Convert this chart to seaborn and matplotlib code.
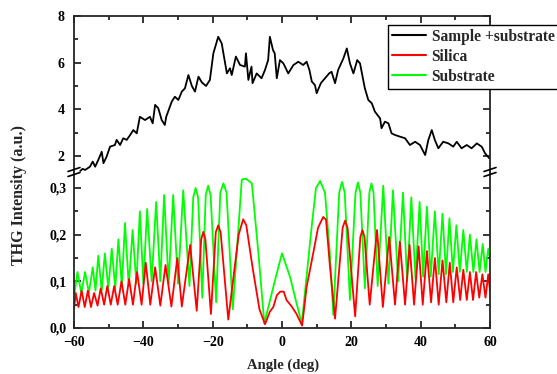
import numpy as np
import pandas as pd
import matplotlib
matplotlib.use("Agg")
import matplotlib.pyplot as plt
import seaborn as sns
from matplotlib.ticker import MultipleLocator, FuncFormatter
from matplotlib.lines import Line2D

# ---------------- data ----------------
sample_angle = [-58.2, -57.5, -56.8, -55.4, -54.6, -53.9, -53.0, -52.0, -51.5, -50.6, -49.6, -48.2,
                -47.7, -46.7, -45.8, -44.8, -43.8, -42.9, -41.9, -41.0, -39.5, -38.1, -37.3, -36.6,
                -35.7, -34.7, -33.8, -33.4, -31.8, -30.9, -29.9, -28.9, -28.0, -27.0, -26.0, -25.1,
                -24.1, -23.1, -21.9, -20.8, -19.8, -18.4, -17.4, -16.9, -15.9, -15.0, -14.5, -13.3,
                -12.1, -10.7, -10.4, -9.7, -8.8, -8.5, -7.3, -5.9, -4.9, -4.0, -3.5, -2.6, -2.1,
                -1.5, -0.6, 0.4, 1.8, 3.3, 4.7, 6.1, 7.1, 7.9, 8.6, 9.5, 10.0, 11.2, 12.4, 13.6,
                14.3, 15.3, 16.2, 17.7, 18.7, 19.6, 20.6, 21.7, 22.5, 23.9, 24.9, 25.9, 26.8, 28.3,
                28.7, 29.7, 30.7, 31.6, 32.6, 34.0, 35.5, 36.9, 38.4, 39.8, 41.3, 42.2, 43.2, 44.1,
                45.1, 46.5, 48.0, 49.4, 50.4, 51.8, 53.3, 54.7, 56.2, 57.6, 58.6, 59.8]
sample_thg = [1.36, 1.45, 1.40, 1.54, 1.76, 1.54, 1.83, 2.18, 1.69, 1.97, 2.40, 2.47,
              2.69, 2.47, 2.76, 2.69, 2.90, 3.11, 2.97, 3.68, 3.54, 3.68, 3.40, 4.19,
              4.05, 3.54, 3.33, 3.68, 4.33, 4.54, 4.40, 4.76, 4.90, 5.47, 5.00, 4.76,
              5.40, 5.15, 5.00, 5.26, 6.40, 7.11, 6.83, 6.40, 5.54, 5.76, 5.47, 6.26,
              5.90, 5.83, 6.40, 5.26, 5.83, 5.12, 5.54, 5.33, 5.69, 6.11, 7.11, 6.54, 6.40,
              5.33, 6.11, 5.97, 5.54, 5.90, 6.04, 5.90, 6.04, 5.69, 5.19, 5.04, 4.69, 5.12, 5.33, 5.54,
              5.61, 5.12, 5.69, 6.18, 6.61, 5.97, 5.54, 6.11, 5.97, 4.90, 4.40, 4.26, 3.90, 3.61,
              3.19, 3.47, 3.40, 2.97, 2.90, 2.83, 2.76, 2.47, 2.61, 2.47, 2.04, 2.68, 3.11, 2.68,
              2.33, 2.61, 2.54, 2.40, 2.61, 2.33, 2.47, 2.33, 2.54, 2.40, 2.11, 1.90]

silica_angle = [-60.0, -59.5, -58.7, -57.8, -56.9, -56.0, -55.1, -54.2, -53.2, -52.3, -51.3, -50.4,
                -49.4, -48.4, -47.4, -46.3, -45.2, -44.1, -43.0, -41.8, -40.5, -39.3, -38.0, -36.6,
                -35.1, -33.6, -31.9, -30.2, -28.9, -26.5, -24.6, -23.3, -22.7, -22.1, -20.5,
                -19.1, -18.4, -17.7, -15.5, -12.5,
                -11.2, -10.3, -8.5, -6.5, -4.9, -3.5, -2.5, -1.5, -0.5, 0.5, 1.3, 2.8, 4.2, 5.8,
                7.1, 9.0, 10.4, 11.9, 12.7, 13.8, 15.3, 17.5, 18.2, 18.9, 21.1, 22.6, 23.2, 23.8,
                25.3, 27.4, 29.1, 30.9,
                32.6, 34.0, 35.5, 36.8, 38.1, 39.4, 40.6, 41.8, 43.0, 44.1, 45.2, 46.3, 47.4, 48.4,
                49.4, 50.4, 51.4, 52.3, 53.3, 54.2, 55.1, 56.0, 56.9, 57.8, 58.7, 59.5, 60.0]
silica_thg = [0.040, 0.075, 0.045, 0.080, 0.045, 0.080, 0.045, 0.075, 0.048, 0.085, 0.050, 0.090,
              0.050, 0.090, 0.050, 0.100, 0.050, 0.105, 0.050, 0.120, 0.050, 0.140, 0.050, 0.130,
              0.048, 0.135, 0.046, 0.150, 0.046, 0.178, 0.037, 0.190, 0.206, 0.190, 0.030,
              0.205, 0.220, 0.205, 0.018, 0.200,
              0.233, 0.220, 0.130, 0.040, 0.008, 0.035, 0.045, 0.070, 0.078, 0.078, 0.060, 0.046, 0.030, 0.005,
              0.088, 0.160, 0.215, 0.238, 0.232, 0.135, 0.020, 0.215, 0.230, 0.215, 0.025, 0.195, 0.210, 0.195,
              0.050, 0.210, 0.045, 0.195,
              0.050, 0.185, 0.050, 0.178, 0.050, 0.175, 0.050, 0.165, 0.055, 0.150, 0.050, 0.145, 0.055, 0.140,
              0.055, 0.130, 0.060, 0.125, 0.060, 0.120, 0.060, 0.120, 0.065, 0.115, 0.065, 0.115, 0.080]

substrate_angle = [-60.0, -59.0, -57.9, -56.8, -55.7, -54.6, -53.8, -53.0, -52.0, -51.1, -50.1, -49.1,
                   -48.1, -47.2, -46.2, -45.3, -44.2, -43.1, -42.0, -41.0, -40.0, -38.9, -37.6, -36.3,
                   -35.1, -34.0, -32.7, -31.4, -30.0, -28.5, -26.7, -25.6, -24.9, -24.2, -23.0,
                   -22.0, -21.3, -20.6, -19.0, -17.8, -16.9, -16.0,
                   -14.2, -11.6, -10.4, -8.7, -6.8, -5.1, -2.0, 0.0, 2.3, 4.2, 5.7, 8.6, 9.8, 11.0,
                   12.4, 13.8, 14.8, 16.5, 17.3, 18.1, 19.6, 21.2, 21.9, 22.6, 23.9, 25.2, 25.8, 26.4,
                   27.6, 29.2, 30.7, 32.0, 33.5, 34.9,
                   36.1, 37.3, 38.5, 39.7, 40.7, 41.8, 42.9, 44.1, 45.2, 46.3, 47.3, 48.3, 49.3, 50.3,
                   51.3, 52.3, 53.3, 54.2, 55.2, 56.1, 57.0, 57.9, 58.7, 59.5, 60.0]
substrate_thg = [0.065, 0.120, 0.075, 0.120, 0.075, 0.130, 0.080, 0.155, 0.080, 0.160, 0.085, 0.170,
                 0.085, 0.190, 0.090, 0.225, 0.090, 0.210, 0.095, 0.250, 0.095, 0.255, 0.100, 0.270,
                 0.100, 0.285, 0.095, 0.285, 0.095, 0.295, 0.090, 0.280, 0.300, 0.280, 0.065,
                 0.285, 0.305, 0.285, 0.055, 0.290, 0.310, 0.290,
                 0.040, 0.318, 0.320, 0.310, 0.160, 0.010, 0.103, 0.160, 0.110, 0.053, 0.010, 0.220, 0.300, 0.315,
                 0.290, 0.160, 0.028, 0.290, 0.313, 0.290, 0.060, 0.290, 0.312, 0.290, 0.085, 0.290, 0.310, 0.290,
                 0.090, 0.305, 0.095, 0.295, 0.100, 0.290,
                 0.100, 0.280, 0.105, 0.270, 0.110, 0.260, 0.110, 0.250, 0.115, 0.245, 0.115, 0.235, 0.120, 0.220,
                 0.120, 0.210, 0.120, 0.200, 0.120, 0.190, 0.120, 0.180, 0.120, 0.170, 0.150]

x_ticks = [-60, -40, -20, 0, 20, 40, 60]
top_yticks = [2, 4, 6, 8]
bottom_yticks = [0.0, 0.1, 0.2, 0.3]
legend_labels = ["Sample +substrate", "Silica", "Substrate"]
colors = {"Sample +substrate": "#000000", "Silica": "#ff0000", "Substrate": "#00ff00"}

# ---------------- style ----------------
sns.set_style("ticks")
plt.rcParams['font.family'] = ['Liberation Serif', 'DejaVu Serif']
plt.rcParams['font.weight'] = 'bold'
plt.rcParams['axes.linewidth'] = 1.3

W, H = 557, 374
fig = plt.figure(figsize=(W / 100, H / 100), dpi=100)
fig.patch.set_facecolor('white')

def fx(px):
    return px / W

def fy(py):
    return 1 - py / H

L, R, T, MID, B = 74, 490, 16, 172, 328
ax_top = fig.add_axes([fx(L), fy(MID), fx(R) - fx(L), fy(T) - fy(MID)])
ax_bot = fig.add_axes([fx(L), fy(B), fx(R) - fx(L), fy(MID) - fy(B)])

df_sample = pd.DataFrame({"angle": sample_angle, "thg": sample_thg})
df_silica = pd.DataFrame({"angle": silica_angle, "thg": silica_thg})
df_sub = pd.DataFrame({"angle": substrate_angle, "thg": substrate_thg})

lw = 1.3
sns.lineplot(data=df_sample, x="angle", y="thg", ax=ax_top, color=colors["Sample +substrate"],
             lw=lw, estimator=None, sort=False, legend=False)
sns.lineplot(data=df_sub, x="angle", y="thg", ax=ax_bot, color=colors["Substrate"],
             lw=lw, estimator=None, sort=False, legend=False)
sns.lineplot(data=df_silica, x="angle", y="thg", ax=ax_bot, color=colors["Silica"],
             lw=lw, estimator=None, sort=False, legend=False)

for ax in (ax_top, ax_bot):
    ax.set_xlim(-60, 60)
    ax.set_xlabel("")
    ax.set_ylabel("")
    ax.xaxis.set_major_locator(MultipleLocator(20))
    ax.xaxis.set_minor_locator(MultipleLocator(10))
    ax.tick_params(which='both', direction='in', width=1.1, top=True, right=True,
                   labelsize=10, colors='black')
    ax.tick_params(which='major', length=5)
    ax.tick_params(which='minor', length=3)
    for s in ax.spines.values():
        s.set_linewidth(1.3)

ax_top.set_ylim(8 - (MID - T) / 23.33, 8)
ax_top.set_yticks(top_yticks)
ax_top.yaxis.set_minor_locator(MultipleLocator(1))
ax_top.spines['bottom'].set_visible(False)
ax_top.tick_params(which='both', bottom=False, labelbottom=False)
ax_top.tick_params(axis='y', pad=7)

ax_bot.set_ylim(0, (B - MID) / 466.7)
ax_bot.set_yticks(bottom_yticks)
ax_bot.yaxis.set_minor_locator(MultipleLocator(0.05))
ax_bot.spines['top'].set_visible(False)
ax_bot.tick_params(which='both', top=False)
ax_bot.set_xticks(x_ticks)
ax_bot.yaxis.set_major_formatter(FuncFormatter(lambda v, p: f"{v:.1f}".replace('.', ',')))
ax_bot.tick_params(axis='x', pad=6)
ax_bot.tick_params(axis='y', pad=5)

for lab in ax_top.get_yticklabels() + ax_bot.get_yticklabels() + ax_bot.get_xticklabels():
    lab.set_fontweight('bold')

# break marks
for xpix in (L, R):
    for dy in (-2.5, 2.5):
        fig.add_artist(Line2D([fx(xpix - 6), fx(xpix + 6)],
                              [fy(MID + dy + 2), fy(MID + dy - 2)],
                              color='black', lw=1.2, transform=fig.transFigure))

# labels
fig.text(fx(19), fy(195), "THG Intensity (a.u.)", rotation=90, ha='center', va='center',
         fontsize=11.5, fontweight='bold')
fig.text(fx(283), fy(369), "Angle (deg)", ha='center', va='baseline',
         fontsize=10.5, fontweight='bold')

# legend
handles = [Line2D([0], [0], color=colors[l], lw=1.5) for l in legend_labels]
leg = fig.legend(handles, legend_labels, loc='upper left',
                 bbox_to_anchor=(fx(388), fy(25)), bbox_transform=fig.transFigure,
                 frameon=True, fancybox=False, edgecolor='black', framealpha=1,
                 prop={'family': ['Liberation Serif'], 'weight': 'bold', 'size': 11.2},
                 borderpad=0.25, labelspacing=0.25, handlelength=2.2, handletextpad=0.35,
                 borderaxespad=0)
leg.get_frame().set_linewidth(1.0)

fig.savefig("out.png", dpi=100)
